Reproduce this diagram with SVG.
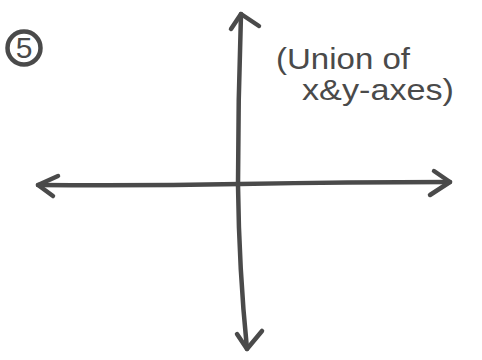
<svg xmlns="http://www.w3.org/2000/svg" width="482" height="360" viewBox="0 0 482 360">
<style>
.ink{fill:none;stroke:#4a4a4a;stroke-width:4.5;stroke-linecap:round;stroke-linejoin:round}
.lbl{font-family:"Liberation Sans",Arial,sans-serif;fill:#4a4a4a;font-size:30px}
</style>
<rect width="482" height="360" fill="#fff"/>
<g id="label-5">
<circle class="ink" cx="24" cy="48" r="16.5" stroke-width="3"/>
<text class="lbl" x="24" y="58" text-anchor="middle" font-size="27">5</text>
</g>
<g id="caption">
<text class="lbl" x="276" y="69" textLength="134" lengthAdjust="spacingAndGlyphs">(Union of</text>
<text class="lbl" x="302" y="100" textLength="152" lengthAdjust="spacingAndGlyphs">x&amp;y-axes)</text>
</g>
<g id="connectors">
<path class="ink" d="M241,14 Q238,100 238,185 Q239,270 247,349"/>
<path class="ink" d="M231,29 L241,14 L259,26"/>
<path class="ink" d="M237,334 L247,349 L262,331"/>
<path class="ink" d="M38,185 Q140,186 240,184 Q350,182 450,182"/>
<path class="ink" d="M58,176 L38,185 L53,196"/>
<path class="ink" d="M434,171 L450,182 L430,195"/>
</g>
</svg>
